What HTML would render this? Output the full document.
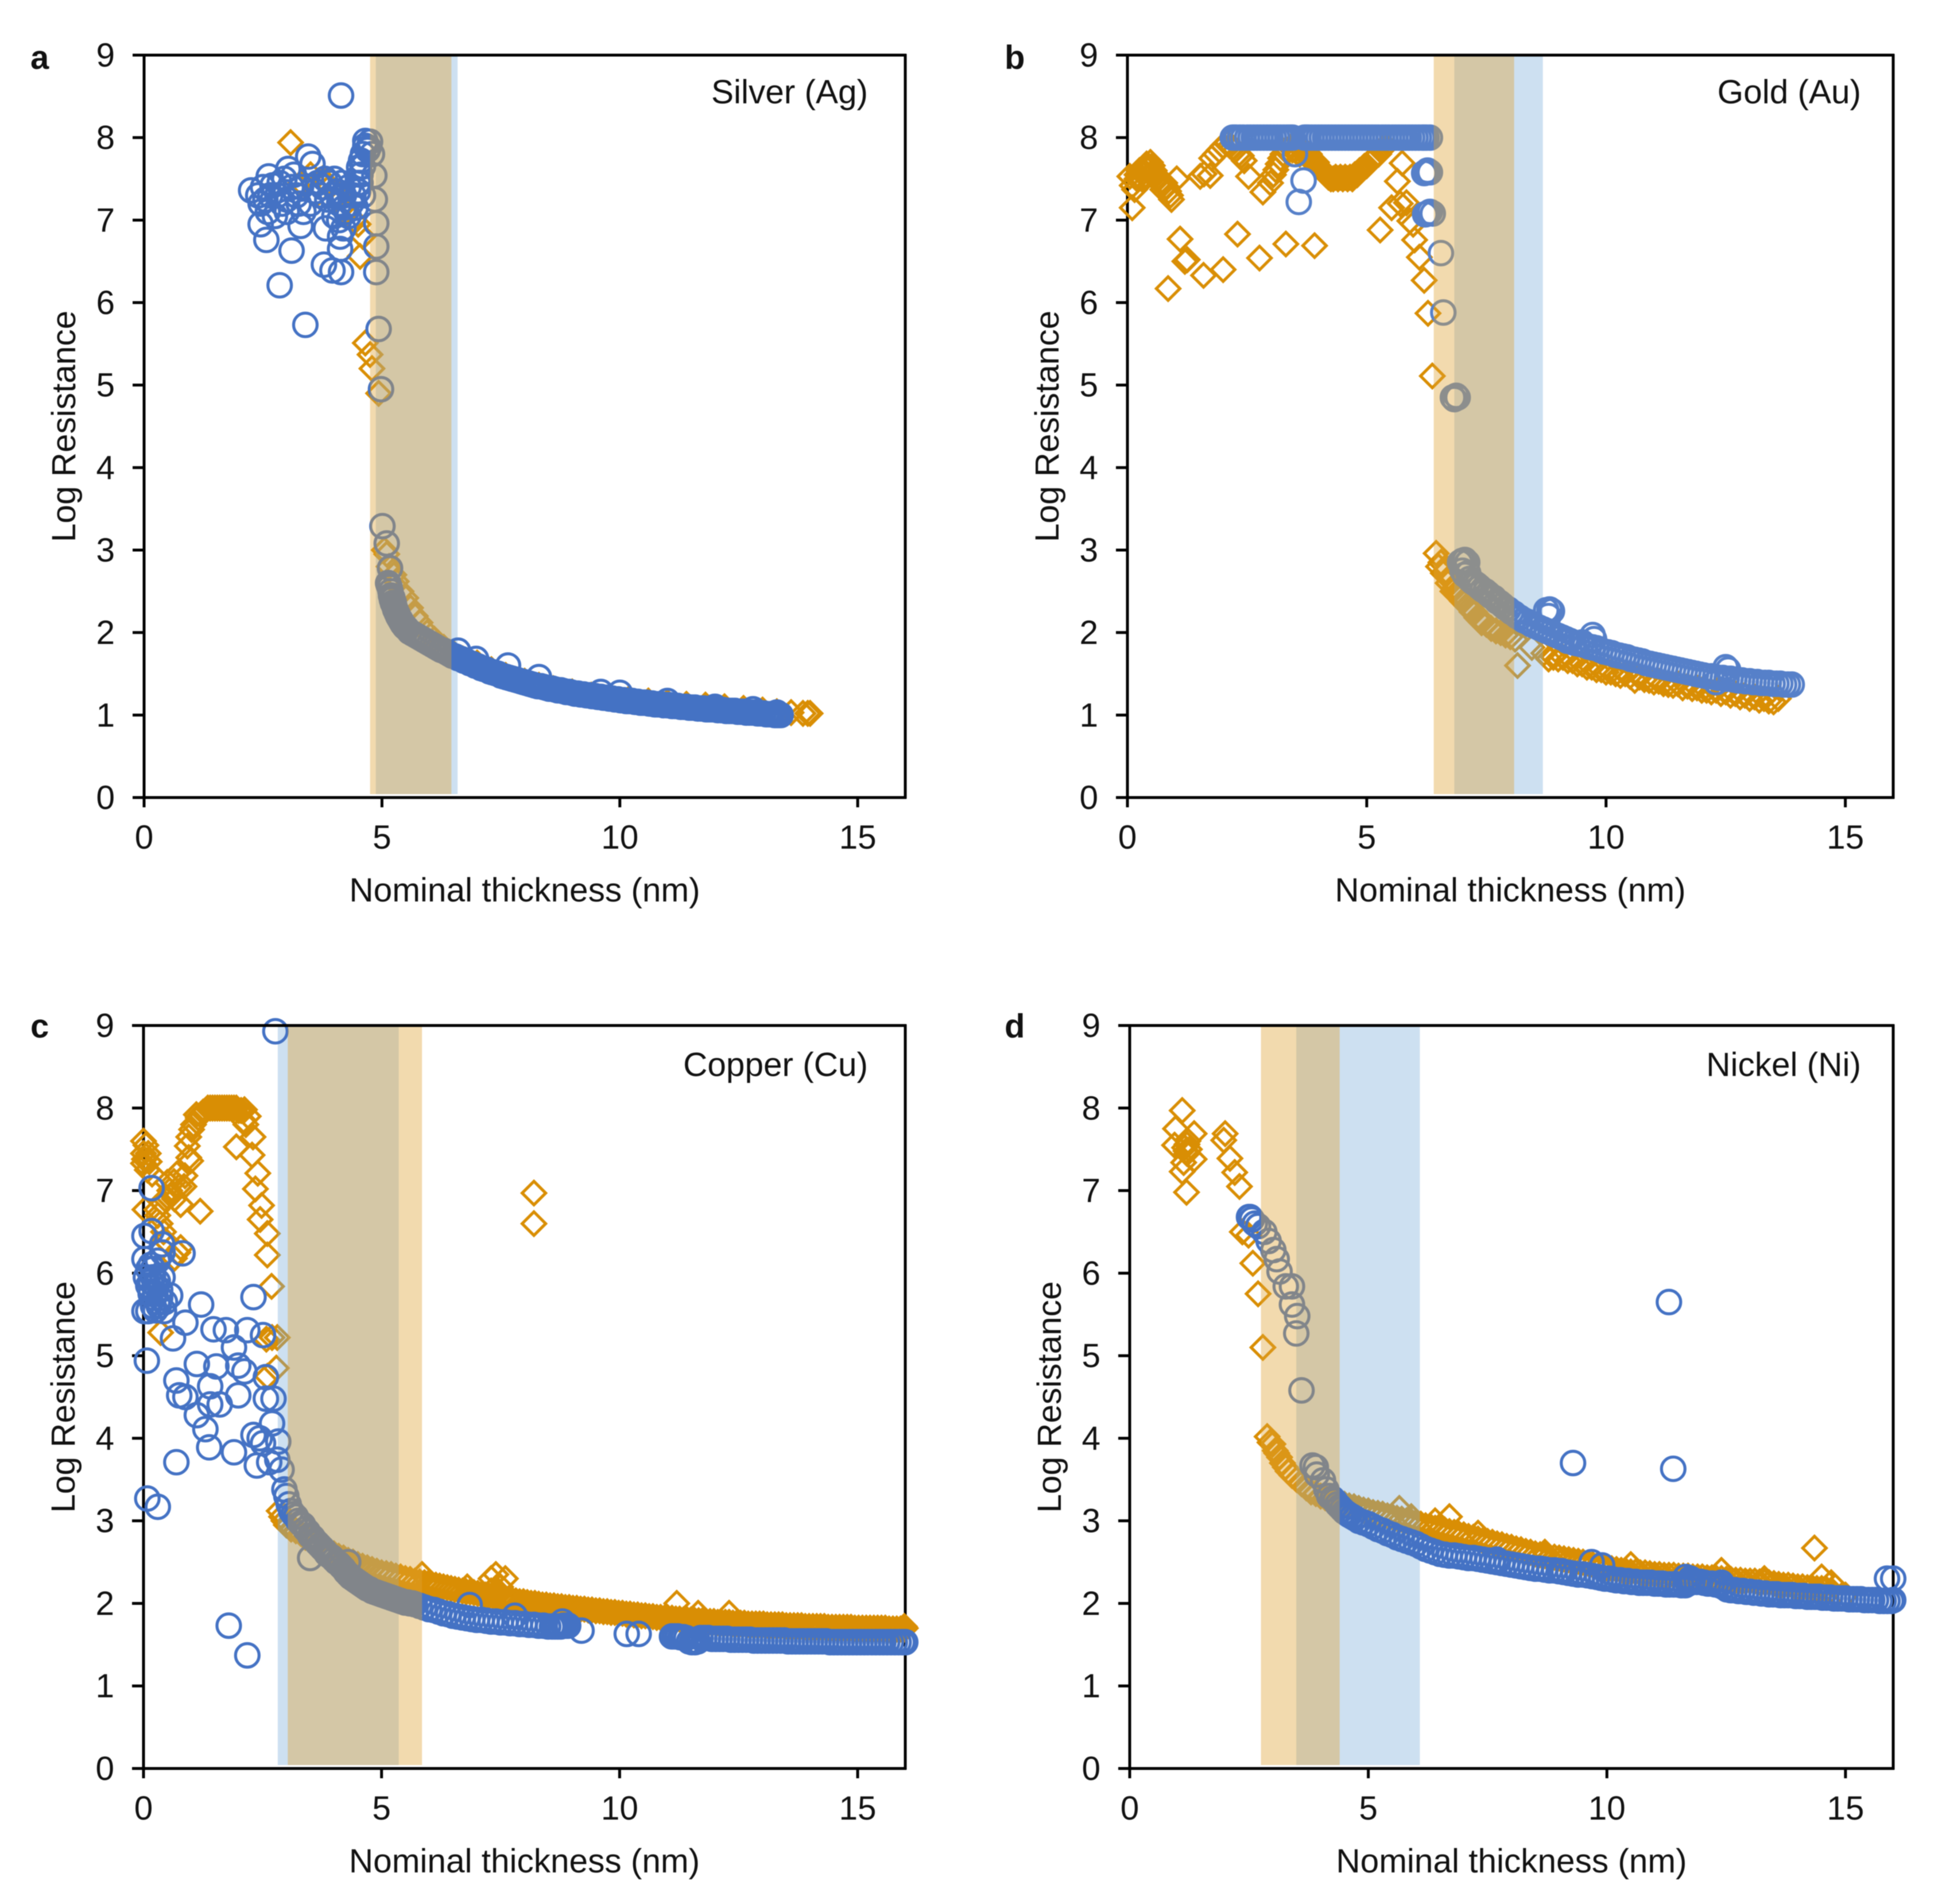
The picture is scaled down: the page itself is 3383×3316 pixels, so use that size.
<!DOCTYPE html>
<html lang="en">
<head>
<meta charset="utf-8">
<title>Log resistance versus nominal thickness</title>
<style>
html,body{margin:0;padding:0;background:#fff;}
svg{display:block;filter:blur(0.8px);}
text{font-family:"Liberation Sans",Arial,sans-serif;fill:#111;}
</style>
</head>
<body>
<svg id="chart" xmlns="http://www.w3.org/2000/svg" width="3383" height="3316" viewBox="0 0 3383 3316"></svg>
<script>
const xTickValues=[0,5,10,15];
const yTickValues=[0,1,2,3,4,5,6,7,8,9];

const silverOrangeBand=[4.75,6.46];
const silverBlueBand=[4.87,6.59];
const goldOrangeBand=[6.4,8.08];
const goldBlueBand=[6.83,8.68];
const copperOrangeBand=[3.03,5.85];
const copperBlueBand=[2.82,5.36];
const nickelOrangeBand=[2.75,4.4];
const nickelBlueBand=[3.49,6.08];

const silverDiamondX=[3.08,3.3,3.5,3.6,3.75,3.9,4.1,4.25,4.4,4.5,4.54,4.6,4.65,4.75,4.79,4.93,
5.05,5.1,5.15,5.25,5.3,5.4,5.5,5.6,5.7,5.8,5.95,6.1,6.3,6.5,6.7,7,7.3,7.6,8,8.3,8.6,9,9.4,9.8,10.2,10.6,11,11.4,11.8,12.2,12.6,13,13.3,13.6,13.85,13.95,14];
const silverDiamondY=[7.94,7.45,7.55,7.3,7.5,7.4,7.3,7.1,7.0,6.95,6.56,6.8,5.51,5.37,5.2,4.9,
3.0,2.95,2.8,2.7,2.62,2.5,2.42,2.3,2.2,2.12,2.0,1.92,1.82,1.75,1.68,1.63,1.55,1.48,1.41,1.36,1.32,1.28,1.24,1.22,1.2,1.17,1.15,1.13,1.12,1.1,1.08,1.06,1.04,1.03,1.02,1.02,1.02];
const silverCircleX=[2.25,2.45,2.57,3.1,3.29,3.82,3.78,3.96,4.14,4.12,4.12,4.19,4.14,3.39,2.85,
2.4,2.45,2.5,2.55,2.62,2.65,2.7,2.8,2.85,2.9,2.95,3.0,3.03,3.1,3.15,3.2,3.25,3.3,3.45,3.54,3.6,3.65,3.7,3.75,3.8,3.85,3.9,3.95,4.0,4.05,4.1,4.15,4.2,4.25,4.3,4.35,4.4,4.45,4.5,4.55,4.6,2.6,2.75,3.0,3.35,3.5,4.0,4.1,4.2,4.3,
4.52,4.56,4.6,4.65,4.72,4.75,4.79,4.84,4.85,4.88,4.88,4.88,4.93,4.98,4.65,4.7,4.55,4.6,4.5,
5.01,5.1,5.17,5.13,5.18,5.22,5.25,
5.14,5.16,5.19,5.21,5.23,5.26,5.29,5.31,5.33,5.36,5.38,5.42,5.44,5.48,5.5,
5.28,5.34,5.40,5.46,5.52,5.58,5.64,5.70,5.76,5.82,
5.88,5.94,6.00,6.06,6.12,6.18,6.24,6.30,6.36,6.42,
6.48,6.54,6.60,6.66,6.72,6.78,6.84,6.90,6.96,7.02,
7.08,7.14,7.20,7.26,7.32,7.38,7.44,7.50,7.56,7.62,
7.68,7.74,7.80,7.86,7.92,7.98,8.04,8.10,8.16,8.22,
8.28,8.34,8.40,8.46,8.52,8.58,8.64,8.70,8.76,8.82,
8.88,8.94,9.00,9.06,9.12,9.18,9.24,9.30,9.36,9.42,
9.48,9.54,9.60,9.66,9.72,9.78,9.84,9.90,9.96,10.02,
10.08,10.14,10.20,10.26,10.32,10.38,10.44,10.50,10.56,10.62,
10.68,10.74,10.80,10.86,10.92,10.98,11.04,11.10,11.16,11.22,
11.28,11.34,11.40,11.46,11.52,11.58,11.64,11.70,11.76,11.82,
11.88,11.94,12.00,12.06,12.12,12.18,12.24,12.30,12.36,12.42,
12.48,12.54,12.60,12.66,12.72,12.78,12.84,12.90,12.96,13.02,
13.08,13.14,13.20,13.26,13.32,13.38,
6.6,6.98,7.65,8.3,9.6,10.0,11.0,12.0,12.8,13.3];
const silverCircleY=[7.36,6.95,6.76,6.63,6.93,6.9,6.46,6.39,6.37,6.65,6.8,6.9,8.51,5.73,6.21,
7.3,7.2,7.4,7.25,7.53,7.3,7.42,7.3,7.45,7.2,7.5,7.1,7.62,7.4,7.55,7.3,7.2,7.4,7.77,7.68,7.35,7.45,7.3,7.4,7.5,7.25,7.45,7.3,7.5,7.35,7.2,7.45,7.3,7.1,7.4,7.2,7.3,7.15,7.35,7.45,7.3,7.1,7.05,7.25,7.1,7.2,7.05,7,7.15,7.05,
7.64,7.72,7.8,7.96,7.88,7.95,7.8,7.54,7.25,6.96,6.68,6.37,5.68,4.95,7.9,7.85,7.55,7.65,7.45,
3.29,3.08,2.78,2.6,2.5,2.42,2.36,
2.58,2.55,2.45,2.4,2.36,2.32,2.27,2.24,2.22,2.18,2.16,2.12,2.1,2.07,2.06,
2.28,2.2,2.14,2.09,2.05,2.01,1.99,1.97,1.95,1.93,
1.91,1.89,1.87,1.85,1.83,1.81,1.79,1.78,1.76,1.74,
1.72,1.71,1.69,1.68,1.66,1.65,1.63,1.62,1.6,1.59,
1.57,1.56,1.55,1.53,1.52,1.51,1.5,1.48,1.47,1.46,
1.45,1.44,1.43,1.42,1.41,1.4,1.39,1.38,1.37,1.36,
1.35,1.35,1.34,1.33,1.32,1.32,1.31,1.3,1.3,1.29,
1.28,1.28,1.27,1.26,1.26,1.25,1.25,1.24,1.24,1.23,
1.23,1.22,1.22,1.21,1.21,1.2,1.2,1.19,1.19,1.18,
1.18,1.17,1.17,1.17,1.16,1.16,1.15,1.15,1.15,1.14,
1.14,1.13,1.13,1.13,1.12,1.12,1.12,1.11,1.11,1.11,
1.1,1.1,1.1,1.09,1.09,1.09,1.08,1.08,1.08,1.07,
1.07,1.07,1.07,1.06,1.06,1.06,1.05,1.05,1.05,1.05,
1.04,1.04,1.04,1.03,1.03,1.03,1.03,1.02,1.02,1.02,
1.01,1.01,1.01,1.0,1.0,1.0,
1.78,1.68,1.6,1.46,1.28,1.27,1.17,1.1,1.07,1.03];

const goldDiamondX=[.1,.85,1.1,1.25,1.2,1.59,2,2.3,2.76,3.31,3.91,5.28,5.52,5.83,5.9,6,6.1,6.2,6.28,6.37,.92,1.03,1.52,1.73,1.6,2.53,2.83,5.64,5.74,5.7,5.97,
.05,.1,.15,.2,.25,.3,.35,.4,.44,.48,.52,.56,.6,.65,.7,.74,.78,.82,.86,.9,.2,.3,.4,.5,.6,
1.76,1.84,1.92,2,2.07,2.14,2.2,2.26,2.32,2.38,2.44,
2.99,3.05,3.1,3.15,3.2,3.25,3.3,3.35,3.4,3.45,3.5,3.55,3.6,3.65,3.7,3.75,3.8,3.85,3.9,3.95,
4.0,4.05,4.1,4.15,4.2,4.25,4.3,4.35,4.4,4.45,4.5,4.55,4.6,4.65,4.7,4.75,4.8,4.85,4.9,4.95,5,5.05,5.1,5.15,5.2,5.25,5.3,5.35,5.4,
6.45,6.5,6.55,6.6,6.65,6.7,6.75,6.8,6.85,6.9,
6.95,7,7.05,7.1,7.15,7.2,7.25,7.3,7.35,7.4,
7.5,7.6,7.7,7.8,7.9,8,8.1,8.15,8.45,8.7,
8.8,8.9,9,9.1,9.2,9.3,9.4,9.5,9.6,9.7,
9.8,9.9,10,10.1,10.2,10.3,10.4,10.5,10.6,10.7,
10.8,10.9,11,11.1,11.2,11.3,11.4,11.5,11.6,11.7,
11.8,11.9,12,12.1,12.2,12.3,12.4,12.5,12.6,12.7,
12.8,12.9,13,13.1,13.2,13.3,13.4,13.5,13.6];
const goldDiamondY=[7.15,6.17,6.77,6.52,6.5,6.33,6.4,6.83,6.54,6.71,6.69,6.88,7.15,7.21,6.99,6.76,6.55,6.27,5.87,5.11,7.25,7.5,7.53,7.54,7.56,7.53,7.34,7.47,7.69,7.2,6.95,
7.53,7.42,7.37,7.55,7.6,7.62,7.65,7.68,7.63,7.7,7.66,7.6,7.55,7.5,7.45,7.37,7.45,7.4,7.35,7.3,7.5,7.5,7.52,7.55,7.5,
7.75,7.8,7.85,7.9,7.93,7.9,7.88,7.85,7.8,7.78,7.72,
7.45,7.55,7.61,7.68,7.75,7.8,7.85,7.85,7.88,7.85,7.85,7.82,7.8,7.85,7.8,7.78,7.8,7.75,7.72,7.7,
7.65,7.62,7.58,7.55,7.52,7.5,7.5,7.52,7.5,7.52,7.5,7.52,7.5,7.52,7.5,7.55,7.55,7.6,7.62,7.65,7.66,7.7,7.72,7.75,7.78,7.8,7.85,7.88,7.9,
2.96,2.8,2.85,2.72,2.75,2.6,2.65,2.5,2.55,2.5,
2.42,2.38,2.4,2.32,2.3,2.25,2.25,2.18,2.15,2.12,
2.1,2.05,2.02,2.0,1.97,1.95,1.92,1.6,1.82,1.75,
1.68,1.7,1.68,1.7,1.66,1.66,1.62,1.62,1.58,1.58,
1.55,1.55,1.52,1.52,1.5,1.48,1.5,1.47,1.42,1.46,
1.43,1.42,1.4,1.41,1.38,1.37,1.36,1.38,1.33,1.35,
1.32,1.33,1.3,1.3,1.28,1.3,1.26,1.28,1.24,1.26,
1.22,1.24,1.2,1.22,1.18,1.2,1.17,1.16,1.2];
const goldCircleX=[2.2,2.24,2.28,2.35,2.42,2.5,2.57,2.64,2.71,2.78,2.85,2.92,2.99,3.06,3.13,3.2,3.27,3.34,3.4,3.45,
3.7,3.74,3.78,3.85,3.92,3.99,4.06,4.13,4.2,4.27,4.34,4.41,4.48,4.55,4.62,4.69,4.76,4.83,4.9,4.97,
5.04,5.11,5.18,5.25,5.32,5.39,5.46,5.53,5.6,5.67,5.74,5.81,5.88,5.95,6.02,6.09,6.16,6.2,6.25,6.32,
3.5,3.68,3.58,6.2,6.24,6.27,6.32,6.22,6.27,6.32,6.38,6.55,6.6,6.8,6.83,6.87,6.9,
6.95,7.0,7.05,7.1,7.0,7.05,7.12,7.15,7.2,7.25,
7.3,7.36,7.42,7.48,7.54,7.6,7.66,7.72,7.78,7.84,
7.9,7.96,8.02,8.08,8.14,8.2,8.28,8.36,8.44,8.52,
8.6,8.68,8.76,8.84,8.92,9.0,9.08,9.16,9.24,9.32,
9.4,9.48,9.56,9.64,9.72,9.8,9.88,9.96,10.04,10.12,
10.2,10.28,10.36,10.44,10.52,10.6,10.68,10.76,10.84,10.92,
11.0,11.08,11.16,11.24,11.32,11.4,11.48,11.56,11.64,11.72,
11.8,11.88,11.96,12.04,12.12,12.2,12.28,12.36,12.44,12.52,
12.6,12.68,12.76,12.84,12.92,13.0,13.08,13.16,13.24,13.32,
13.4,13.48,13.56,13.64,13.72,13.8,13.88,
8.75,8.82,8.87,8.8,9.72,9.75,12.5,12.55,12.3,9.2,9.5];
const goldCircleY=[8,8,8,8,8,8,8,8,8,8,8,8,8,8,8,8,8,8,8,8,
8,8,8,8,8,8,8,8,8,8,8,8,8,8,8,8,8,8,8,8,
8,8,8,8,8,8,8,8,8,8,8,8,8,8,8,8,8,8,8,8,
7.8,7.48,7.22,7.57,7.58,7.6,7.58,7.07,7.08,7.1,7.08,6.6,5.88,4.85,4.83,4.87,4.85,
2.85,2.87,2.88,2.85,2.75,2.7,2.72,2.65,2.62,2.6,
2.58,2.55,2.52,2.5,2.47,2.44,2.42,2.38,2.36,2.33,
2.3,2.28,2.25,2.23,2.2,2.18,2.15,2.13,2.1,2.08,
2.06,2.04,2.02,2.0,1.98,1.96,1.94,1.92,1.9,1.88,
1.87,1.86,1.85,1.83,1.82,1.81,1.79,1.77,1.76,1.75,
1.73,1.72,1.71,1.7,1.68,1.67,1.66,1.65,1.63,1.62,
1.61,1.6,1.59,1.58,1.57,1.56,1.55,1.54,1.53,1.52,
1.51,1.5,1.49,1.48,1.47,1.47,1.46,1.45,1.45,1.44,
1.44,1.43,1.42,1.42,1.41,1.41,1.4,1.4,1.39,1.39,
1.39,1.38,1.38,1.38,1.37,1.37,1.37,
2.27,2.28,2.26,2.2,1.97,1.92,1.58,1.55,1.4,1.9,1.88];

const copperDiamondX=[0,0,.1,0,.08,.05,.02,.12,.18,
1.15,1.2,1.25,1.3,1.35,1.4,1.45,1.5,1.55,1.6,1.65,1.7,1.75,1.8,1.85,1.9,1.95,2.0,2.05,2.12,2.2,2.1,2.15,
1.11,1.05,1.01,.95,.92,.99,.87,.64,.55,1.19,.78,.7,.6,.5,.45,.75,.85,.95,.4,.65,
2.3,1.95,2.28,2.4,2.35,2.48,2.45,2.6,2.6,2.69,2.81,2.7,2.58,2.79,2.6,
.36,.78,.65,.28,.03,.35,.42,.3,.45,.72,8.2,8.2,
2.85,2.9,2.95,3,3.05,3.1,3.2,3.3,3.4,3.5,
3.6,3.7,3.8,3.9,4,4.1,4.2,4.3,4.4,4.5,
4.6,4.7,4.8,4.9,5,5.1,5.2,5.3,5.4,5.5,
5.6,5.7,5.8,5.85,
5.9,5.98,6.06,6.14,6.22,6.3,6.38,6.46,6.54,6.62,
6.7,6.78,6.86,6.94,7.02,7.1,7.18,7.26,7.34,7.42,
7.5,7.58,7.66,7.74,7.82,7.9,7.98,8.06,8.14,8.22,
8.3,8.38,8.46,8.54,8.62,8.7,8.78,8.86,8.94,9.02,
9.1,9.18,9.26,9.34,9.42,9.5,9.58,9.66,9.74,9.82,
9.9,9.98,10.06,10.14,10.22,10.3,10.38,10.46,10.54,10.62,
10.7,10.78,10.86,10.94,11.02,11.1,11.18,11.26,11.34,11.42,
11.5,11.58,11.66,11.74,11.82,11.9,11.98,12.06,12.14,12.22,
12.3,12.38,12.46,12.54,12.62,12.7,12.78,12.86,12.94,13.02,
13.1,13.18,13.26,13.34,13.42,13.5,13.58,13.66,13.74,13.82,
13.9,13.98,14.06,14.14,14.22,14.3,14.38,14.46,14.54,14.62,
14.7,14.78,14.86,14.94,15.02,15.1,15.18,15.26,15.34,15.42,
15.5,15.58,15.66,15.74,15.82,15.9,15.98,16,
7.3,7.4,7.5,7.6,7.45,5.85,6.8,11.2,11.65,7.3,12.3,15.98];
const copperDiamondY=[7.6,7.45,7.45,7.33,7.25,7.55,7.38,7.35,7.2,
7.88,7.92,7.95,7.97,8,8,8,8,8,8,8,8,8,8,8,8,8,7.97,7.97,7.98,7.9,7.85,7.8,
7.92,7.8,7.74,7.65,7.54,7.36,7.18,7.11,7.0,6.75,6.83,7.2,6.95,7.1,6.9,7.05,7.05,7.4,6.85,6.9,
7.65,7.53,7.43,7.21,7.02,6.82,6.65,6.48,6.22,5.84,5.22,5.22,5.2,4.85,4.75,
5.28,6.31,6.18,6.77,6.77,6.6,6.5,6.7,6.4,6.25,6.97,6.6,
3.12,3.05,3,2.95,2.95,2.9,2.88,2.85,2.8,2.78,
2.74,2.7,2.67,2.63,2.6,2.57,2.55,2.52,2.5,2.47,
2.45,2.43,2.41,2.39,2.37,2.36,2.35,2.33,2.32,2.3,
2.29,2.27,2.26,2.35,
2.25,2.24,2.23,2.22,2.21,2.2,2.19,2.18,2.17,2.16,
2.15,2.14,2.14,2.13,2.12,2.11,2.1,2.09,2.09,2.08,
2.07,2.06,2.05,2.04,2.03,2.02,2.02,2.01,2.0,2.0,
1.99,1.98,1.98,1.97,1.97,1.96,1.96,1.95,1.95,1.94,
1.94,1.93,1.93,1.92,1.92,1.91,1.91,1.9,1.9,1.89,
1.89,1.88,1.88,1.87,1.87,1.86,1.86,1.85,1.85,1.84,
1.84,1.83,1.83,1.82,1.82,1.82,1.81,1.81,1.8,1.8,
1.8,1.79,1.79,1.79,1.78,1.78,1.78,1.77,1.77,1.77,
1.77,1.76,1.76,1.76,1.76,1.75,1.75,1.75,1.75,1.75,
1.74,1.74,1.74,1.74,1.74,1.73,1.73,1.73,1.73,1.73,
1.72,1.72,1.72,1.72,1.72,1.72,1.71,1.71,1.71,1.71,
1.71,1.71,1.71,1.7,1.7,1.7,1.7,1.7,1.7,1.7,
1.7,1.7,1.69,1.69,1.69,1.69,1.69,1.7,
2.3,2.35,2.2,2.3,2.15,2.35,2.2,2.0,1.88,2.15,1.88,1.72];
const copperCircleX=[2.77,.17,.02,.17,.02,.39,.82,.02,.1,.07,.08,.3,.69,1.79,2.18,.56,.43,.62,.88,1.21,2.31,1.47,1.73,2.18,2.51,1.9,1.53,1.12,1.99,2.12,2.57,1.4,.69,.75,.88,1.99,1.4,1.6,1.12,1.3,1.38,1.9,2.31,2.44,2.51,2.38,2.83,2.7,2.57,2.73,2.64,2.81,2.9,2.96,
.05,.1,.15,.2,.25,.3,.35,.4,.1,.15,.2,.25,.3,.35,.2,.25,.3,.4,.45,.15,.22,.32,
3.0,3.05,3.1,3.15,3.2,3.25,3.3,3.35,3.4,3.45,
3.5,3.55,3.6,3.65,3.7,3.75,3.8,3.85,3.9,3.95,
4,4.05,4.1,4.15,4.2,4.25,4.3,4.35,4.4,4.45,
4.5,4.55,4.6,4.65,4.7,4.75,4.8,4.85,4.9,4.95,
5,5.05,5.1,5.15,5.2,5.25,5.3,5.35,5.4,5.45,
5.5,5.55,5.6,5.65,5.7,5.8,5.9,6,6.1,6.2,
6.3,6.4,6.5,6.6,6.7,6.8,6.9,7,7.1,7.2,
7.3,7.4,7.5,7.6,7.7,7.8,7.9,8,8.1,8.2,
8.3,8.4,8.5,8.58,8.64,8.7,8.76,8.82,8.88,8.92,
3.5,6.85,7.8,9.2,10.15,10.4,4.3,8.8,
11.1,11.16,11.22,11.28,11.34,11.4,11.46,11.52,11.58,11.64,
11.7,11.78,11.86,11.94,12.02,12.1,12.18,12.26,12.34,12.42,
12.5,12.58,12.66,12.74,12.82,12.9,12.98,13.06,13.14,13.22,
13.3,13.38,13.46,13.54,13.62,13.7,13.78,13.86,13.94,14.02,
14.1,14.18,14.26,14.34,14.42,14.5,14.58,14.66,14.74,14.82,
14.9,14.98,15.06,15.14,15.22,15.3,15.38,15.46,15.54,15.62,
15.7,15.78,15.86,15.94,16];
const copperCircleY=[8.93,7.03,6.45,6.51,6.17,6.35,6.24,5.54,5.54,4.94,3.27,3.17,3.71,1.73,1.37,5.73,5.54,5.21,5.4,5.62,5.71,5.32,5.31,5.31,5.25,5.1,4.87,4.9,4.88,4.81,4.74,4.63,4.7,4.52,4.5,4.52,4.41,4.41,4.28,4.11,3.89,3.83,4.04,4,3.94,3.67,3.96,4.18,4.48,4.48,3.71,3.74,3.62,3.38,
5.95,5.85,5.9,5.95,5.85,5.9,5.8,5.95,6.05,6.1,6.05,5.75,5.65,5.7,5.6,5.55,6.15,6.25,5.65,5.75,5.7,5.6,
3.3,3.2,3.12,3.08,3.05,3.0,2.97,2.95,2.9,2.87,
2.82,2.8,2.76,2.73,2.7,2.67,2.64,2.6,2.58,2.56,
2.53,2.5,2.48,2.45,2.42,2.38,2.35,2.32,2.3,2.28,
2.26,2.24,2.22,2.2,2.18,2.17,2.15,2.14,2.13,2.12,
2.11,2.1,2.09,2.08,2.07,2.06,2.05,2.04,2.03,2.02,
2.01,2.01,2.0,2.0,1.99,1.97,1.95,1.93,1.92,1.9,
1.88,1.87,1.85,1.84,1.83,1.82,1.81,1.8,1.8,1.79,
1.78,1.78,1.77,1.77,1.76,1.76,1.75,1.75,1.74,1.74,
1.73,1.73,1.72,1.72,1.72,1.72,1.72,1.73,1.73,1.73,
2.55,1.98,1.85,1.67,1.63,1.63,2.5,1.78,
1.6,1.6,1.6,1.59,1.59,1.58,1.54,1.53,1.53,1.54,
1.58,1.58,1.58,1.57,1.57,1.57,1.57,1.57,1.56,1.56,
1.56,1.56,1.56,1.56,1.55,1.55,1.55,1.55,1.55,1.55,
1.55,1.55,1.55,1.54,1.54,1.54,1.54,1.54,1.54,1.54,
1.54,1.54,1.54,1.54,1.53,1.53,1.53,1.53,1.53,1.53,
1.53,1.53,1.53,1.53,1.53,1.53,1.53,1.53,1.53,1.53,
1.53,1.53,1.53,1.53,1.53];

const nickelDiamondX=[1.1,.96,1.35,.94,1.15,1.2,1.25,1.2,1.35,1.13,1.1,1.19,1.22,1.18,2,1.97,2.1,2.2,2.3,2.36,2.49,2.58,2.69,2.79,
2.88,2.94,3,3.05,3.08,3.14,3.2,3.26,3.32,3.4,
3.5,3.6,3.7,3.8,3.9,4,4.1,4.2,4.3,4.4,
4.5,4.6,4.7,4.8,4.9,5,5.1,5.2,5.3,5.4,
5.5,5.6,5.7,5.8,5.9,6,6.1,6.2,6.3,6.4,
6.5,6.6,6.7,6.8,6.9,7,7.1,7.2,7.3,7.4,
7.5,7.6,7.7,7.8,7.9,8,8.1,8.2,8.3,8.4,
8.5,8.6,8.7,8.8,8.9,9,9.1,9.2,9.3,9.4,
9.5,9.6,9.7,9.8,9.9,10,10.1,10.2,10.3,10.4,
10.5,10.6,10.7,10.8,10.9,11,11.1,11.2,11.3,11.4,
11.5,11.6,11.7,11.8,11.9,12,12.1,12.2,12.3,12.4,
12.5,12.6,12.7,12.8,12.9,13,13.1,13.2,13.3,13.4,
13.5,13.6,13.7,13.8,13.9,14,14.1,14.2,14.3,14.4,
14.5,14.6,14.7,15,
5.65,6.7,7.3,8.7,10.5,12.4,14.35,14.5,13.3,14.7,6.4,5.9];
const nickelDiamondY=[7.97,7.75,7.69,7.55,7.52,7.56,7.5,7.45,7.38,7.34,7.23,6.98,7.6,7.48,7.69,7.61,7.39,7.22,7.05,6.5,6.46,6.12,5.75,5.1,
4.02,3.95,3.93,3.85,3.82,3.77,3.7,3.65,3.6,3.55,
3.5,3.45,3.4,3.35,3.33,3.3,3.28,3.26,3.24,3.22,
3.2,3.18,3.17,3.15,3.13,3.12,3.1,3.09,3.08,3.06,
3.05,3.03,3.02,3.0,2.99,2.98,2.96,2.94,2.93,2.91,
2.9,2.89,2.87,2.86,2.84,2.83,2.81,2.8,2.78,2.76,
2.75,2.74,2.72,2.71,2.69,2.68,2.66,2.65,2.63,2.62,
2.6,2.59,2.58,2.56,2.56,2.55,2.54,2.53,2.52,2.51,
2.5,2.49,2.47,2.46,2.45,2.43,2.42,2.41,2.4,2.39,
2.38,2.38,2.37,2.37,2.36,2.35,2.35,2.34,2.34,2.34,
2.33,2.33,2.33,2.32,2.32,2.32,2.31,2.31,2.3,2.3,
2.29,2.29,2.28,2.28,2.27,2.27,2.27,2.26,2.26,2.25,
2.24,2.23,2.22,2.22,2.21,2.2,2.2,2.19,2.19,2.18,
2.18,2.17,2.16,2.1,
3.15,3.05,2.85,2.62,2.47,2.4,2.67,2.32,2.3,2.25,3.0,3.05];
const nickelCircleX=[2.5,2.52,2.56,2.62,2.69,2.82,2.91,3.01,3.08,3.14,3.27,3.4,3.4,3.51,3.49,3.6,3.83,3.9,3.92,4.05,4.12,4.18,11.3,9.29,11.39,9.68,9.9,7.69,11.7,11.65,15.87,16,16,11.75,12.4,9.05,
4.25,4.3,4.35,4.4,4.45,4.5,4.55,4.6,4.66,4.72,
4.8,4.9,5,5.1,5.2,5.3,5.4,5.5,5.6,5.7,
5.8,5.9,6,6.1,6.2,6.3,6.4,6.5,6.6,6.7,
6.8,6.9,7,7.1,7.2,7.3,7.4,7.5,7.6,7.7,
7.8,7.9,8,8.1,8.2,8.3,8.4,8.5,8.6,8.7,
8.8,8.9,9,9.1,9.2,9.3,9.4,9.5,9.6,9.7,
9.8,9.88,9.96,10.04,10.12,10.2,10.28,10.36,10.44,10.52,
10.6,10.68,10.76,10.84,10.92,11,11.08,11.16,11.24,11.32,
11.4,11.48,11.56,11.64,11.72,11.8,11.88,11.96,12.04,12.12,
12.2,12.28,12.36,12.44,12.52,12.6,12.68,12.76,12.84,12.92,
13,13.08,13.16,13.24,13.32,13.4,13.48,13.56,13.64,13.72,
13.8,13.88,13.96,14.04,14.12,14.2,14.28,14.36,14.44,14.52,
14.6,14.68,14.76,14.84,14.92,15,15.08,15.16,15.24,15.32,
15.4,15.48,15.56,15.64,15.72,15.8,15.88,15.96];
const nickelCircleY=[6.68,6.68,6.65,6.6,6.57,6.5,6.39,6.28,6.17,6.02,5.84,5.84,5.62,5.48,5.27,4.58,3.67,3.65,3.56,3.49,3.38,3.3,5.65,3.7,3.63,2.5,2.46,2.53,2.24,2.32,2.3,2.3,2.04,2.3,2.25,2.39,
3.27,3.24,3.2,3.17,3.14,3.11,3.09,3.07,3.05,3.03,
3.0,2.98,2.96,2.93,2.9,2.88,2.85,2.83,2.8,2.78,
2.76,2.74,2.72,2.69,2.66,2.64,2.62,2.6,2.59,2.58,
2.58,2.57,2.56,2.55,2.55,2.54,2.53,2.52,2.51,2.5,
2.49,2.48,2.47,2.46,2.45,2.44,2.43,2.42,2.42,2.41,
2.4,2.4,2.39,2.38,2.37,2.36,2.35,2.35,2.34,2.33,
2.32,2.31,2.3,2.3,2.29,2.28,2.28,2.27,2.27,2.26,
2.26,2.25,2.25,2.25,2.25,2.24,2.24,2.24,2.23,2.23,
2.23,2.23,2.22,2.22,2.27,2.27,2.26,2.26,2.25,2.24,
2.24,2.23,2.22,2.2,2.17,2.16,2.16,2.15,2.15,2.14,
2.14,2.13,2.13,2.12,2.12,2.11,2.11,2.11,2.1,2.1,
2.1,2.1,2.09,2.09,2.09,2.08,2.08,2.08,2.08,2.07,
2.07,2.07,2.06,2.06,2.06,2.06,2.05,2.05,2.05,2.05,
2.04,2.04,2.04,2.04,2.03,2.03,2.03,2.03];

const NS='http://www.w3.org/2000/svg';
const XMAX=16,YMAX=9;
const AXIS_W=5,R=20.5,MARK_W=5.2,FONT=58.5;
const DIAMOND_COLOR='#d98e04';
const ORANGE_FILL='rgba(222,163,52,0.4)';
const BLUE_FILL='rgba(120,171,217,0.37)';
const root=document.getElementById('chart');

const panels=[
 {id:'silver',letter:'a',title:'Silver (Ag)',left:251,right:1577,top:96,bottom:1389,titleInset:65,circleColor:'#4472c4',orange:silverOrangeBand,blue:silverBlueBand,dx:silverDiamondX,dy:silverDiamondY,cx:silverCircleX,cy:silverCircleY},
 {id:'gold',letter:'b',title:'Gold (Au)',left:1964,right:3298,top:96,bottom:1389,titleInset:56,circleColor:'#5680c9',orange:goldOrangeBand,blue:goldBlueBand,dx:goldDiamondX,dy:goldDiamondY,cx:goldCircleX,cy:goldCircleY},
 {id:'copper',letter:'c',title:'Copper (Cu)',left:250,right:1577,top:1786,bottom:3080,titleInset:65,circleColor:'#4472c4',orange:copperOrangeBand,blue:copperBlueBand,dx:copperDiamondX,dy:copperDiamondY,cx:copperCircleX,cy:copperCircleY},
 {id:'nickel',letter:'d',title:'Nickel (Ni)',left:1968,right:3298,top:1786,bottom:3080,titleInset:56,circleColor:'#4472c4',orange:nickelOrangeBand,blue:nickelBlueBand,dx:nickelDiamondX,dy:nickelDiamondY,cx:nickelCircleX,cy:nickelCircleY}
];

function make(tag,attrs,parent){
  const el=document.createElementNS(NS,tag);
  for(const k in attrs){el.setAttribute(k,attrs[k]);}
  parent.appendChild(el);
  return el;
}

function drawPanel(p){
  const xScale=v=>p.left+v*(p.right-p.left)/XMAX;
  const yScale=v=>p.bottom-v*(p.bottom-p.top)/YMAX;

  const g=make('g',{},root);
  
  

  const axisAttrs={stroke:'#000','stroke-width':AXIS_W,fill:'none'};
  const yAxis=make('line',Object.assign({x1:p.left,x2:p.left,y1:p.top-2,y2:p.bottom+17},axisAttrs),g);
  
  
  const xAxis=make('line',Object.assign({x1:p.left-2,x2:p.right+2,y1:p.bottom,y2:p.bottom},axisAttrs),g);
  
  
  const rightEdge=make('line',Object.assign({x1:p.right,x2:p.right,y1:p.top-2,y2:p.bottom+2},axisAttrs),g);
  
  

  xTickValues.forEach(v=>{
    const t=make('line',Object.assign({x1:xScale(v),x2:xScale(v),y1:p.bottom,y2:p.bottom+17},axisAttrs),g);
    
    
    const label=make('text',{x:xScale(v),y:p.bottom+89,'text-anchor':'middle','font-size':FONT},g);
    label.textContent=String(v);
    
    
  });
  yTickValues.forEach(v=>{
    const t=make('line',Object.assign({x1:p.left-20,x2:p.left,y1:yScale(v),y2:yScale(v)},axisAttrs),g);
    
    
    const label=make('text',{x:p.left-51,y:yScale(v)+20,'text-anchor':'end','font-size':FONT},g);
    label.textContent=String(v);
    
    
  });

  const dGroup=make('g',{fill:'none',stroke:DIAMOND_COLOR,'stroke-width':MARK_W},g);
  
  
  p.dx.forEach((v,i)=>{
    const cx=xScale(v),cy=yScale(p.dy[i]);
    const d=make('path',{d:'M'+cx+' '+(cy-R)+'L'+(cx+R)+' '+cy+'L'+cx+' '+(cy+R)+'L'+(cx-R)+' '+cy+'Z'},dGroup);
    
    
  });

  const bandBottom=p.bottom-6;
  const blueBand=make('rect',{x:xScale(p.blue[0]),y:p.top,width:xScale(p.blue[1])-xScale(p.blue[0]),height:bandBottom-p.top,fill:BLUE_FILL},g);
  
  

  const cGroup=make('g',{fill:'none',stroke:p.circleColor,'stroke-width':MARK_W},g);
  
  
  p.cx.forEach((v,i)=>{
    const c=make('circle',{cx:xScale(v),cy:yScale(p.cy[i]),r:R},cGroup);
    
    
  });

  const orangeBand=make('rect',{x:xScale(p.orange[0]),y:p.top,width:xScale(p.orange[1])-xScale(p.orange[0]),height:bandBottom-p.top,fill:ORANGE_FILL},g);
  
  

  const topEdge=make('line',Object.assign({x1:p.left-19,x2:p.right+2,y1:p.top,y2:p.top},axisAttrs),g);
  
  

  const xTitle=make('text',{x:(p.left+p.right)/2,y:p.bottom+181,'text-anchor':'middle','font-size':FONT},g);
  xTitle.textContent='Nominal thickness (nm)';
  
  

  const yMid=(p.top+p.bottom)/2;
  const yTitleX=p.left-120;
  const yTitle=make('text',{x:yTitleX,y:yMid,'text-anchor':'middle','font-size':FONT,transform:'rotate(-90 '+yTitleX+' '+yMid+')'},g);
  yTitle.textContent='Log Resistance';
  
  

  const panelTitle=make('text',{x:p.right-p.titleInset,y:p.top+(p.top<500?84:88),'text-anchor':'end','font-size':FONT},g);
  panelTitle.textContent=p.title;
  
  

  const panelLetter=make('text',{x:p.left<1000?53:1750,y:p.top+(p.top<500?24:21),'font-size':58,'font-weight':'bold'},g);
  panelLetter.textContent=p.letter;
  
  
}

panels.forEach(drawPanel);
</script>
</body>
</html>
